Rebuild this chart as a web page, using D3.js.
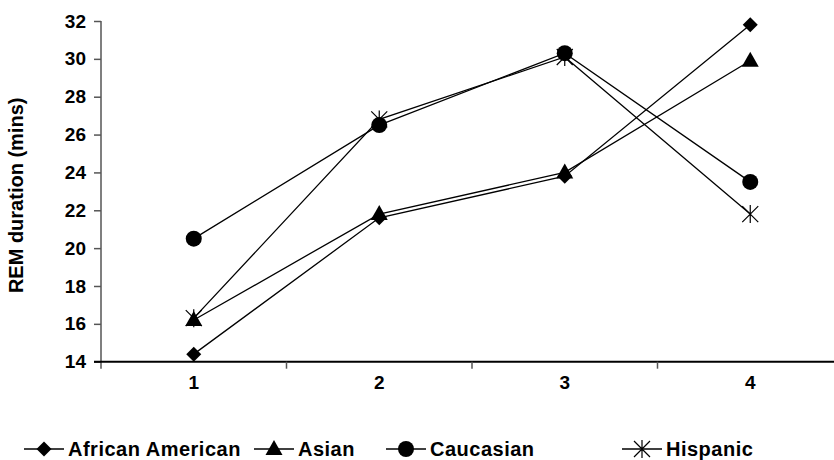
<!DOCTYPE html>
<html><head><meta charset="utf-8">
<script src="https://cdn.jsdelivr.net/npm/d3@7"></script>
<style>
html,body{margin:0;padding:0;background:#fff;}
svg{display:block;}
text{font-family:"Liberation Sans",Arial,sans-serif;font-weight:bold;fill:#000;}
</style></head>
<body>
<svg id="chart" width="834" height="460"></svg>
<script>
const categories = ["1", "2", "3", "4"];
const seriesNames = ["African American", "Asian", "Caucasian", "Hispanic"];
const africanAmerican = [14.4, 21.6, 23.8, 31.8];
const asian = [16.2, 21.8, 24.0, 29.9];
const caucasian = [20.5, 26.5, 30.3, 23.5];
const hispanic = [16.3, 26.8, 30.1, 21.8];
const yTicks = [14, 16, 18, 20, 22, 24, 26, 28, 30, 32];
const markerTypes = ["diamond", "triangle", "circle", "asterisk"];
const yTitle = "REM duration (mins)";

const seriesValues = [africanAmerican, asian, caucasian, hispanic];
const svg = d3.select("#chart");
const FONT = "Liberation Sans, Arial, sans-serif";

const x = d3.scaleBand().domain(categories).range([101, 843]).paddingInner(0).paddingOuter(0);
const y = d3.scaleLinear().domain([14, 32]).range([361.7, 21]);
const cx = c => x(c) + x.bandwidth() / 2;

// Y axis
const yAxis = svg.append("g").attr("transform", "translate(101,0)")
  .call(d3.axisLeft(y).tickValues(yTicks).tickSize(7).tickPadding(8).tickFormat(d3.format("d")));
yAxis.select(".domain").attr("stroke", "#555").attr("stroke-width", 1.5)
  .attr("d", `M0,${y(32)}V${y(14) + 7}`);
yAxis.selectAll(".tick line").attr("stroke", "#555").attr("stroke-width", 1.5);
yAxis.selectAll(".tick text").style("font-size", "19px").style("font-family", FONT).style("font-weight", "bold").attr("fill", "#000");

// X axis
const xAxis = svg.append("g").attr("transform", `translate(0,${y(14)})`)
  .call(d3.axisBottom(x).tickSize(0).tickPadding(14));
xAxis.select(".domain").attr("stroke", "#000").attr("stroke-width", 2)
  .attr("d", `M94,0H${x.range()[1]}`);
xAxis.selectAll(".tick text").style("font-size", "19px").style("font-family", FONT).style("font-weight", "bold").attr("fill", "#000");
const bounds = categories.map(c => x(c)).concat([x.range()[1]]).slice(1);
xAxis.selectAll("line.bound").data(bounds).enter().append("line")
  .attr("class", "bound").attr("x1", d => d).attr("x2", d => d)
  .attr("y1", 0).attr("y2", 7).attr("stroke", "#555").attr("stroke-width", 1.5);

// Y title
svg.append("text").attr("transform", `translate(23,${(y(14) + y(32)) / 2 + 4}) rotate(-90)`)
  .attr("text-anchor", "middle").style("font-size", "20px").text(yTitle);

// marker drawing
function drawMarker(g, type, px, py) {
  if (type === "diamond") {
    const s = 7.5;
    g.append("path").attr("d", `M${px},${py - s}L${px + s},${py}L${px},${py + s}L${px - s},${py}Z`).attr("fill", "#000");
  } else if (type === "triangle") {
    g.append("path").attr("d", `M${px},${py - 9}L${px + 8.5},${py + 6}L${px - 8.5},${py + 6}Z`).attr("fill", "#000");
  } else if (type === "circle") {
    g.append("circle").attr("cx", px).attr("cy", py).attr("r", 8).attr("fill", "#000");
  } else if (type === "asterisk") {
    const s = 8;
    g.append("path").attr("d",
      `M${px - s},${py - s}L${px + s},${py + s}M${px + s},${py - s}L${px - s},${py + s}M${px},${py - s - 1}L${px},${py + s + 1}`)
      .attr("stroke", "#000").attr("stroke-width", 1.2).attr("fill", "none");
  }
}

const line = d3.line().x((d, i) => cx(categories[i])).y(d => y(d));
seriesValues.forEach((vals, si) => {
  const g = svg.append("g");
  g.append("path").attr("d", line(vals)).attr("fill", "none").attr("stroke", "#000").attr("stroke-width", 1.3);
  vals.forEach((v, i) => drawMarker(g, markerTypes[si], cx(categories[i]), y(v)));
});

// Legend
const legendText = [68, 298, 430, 666];
const legY = 449;
seriesNames.forEach((name, si) => {
  const g = svg.append("g");
  const tx = legendText[si];
  const lx = tx - 44;
  g.append("line").attr("x1", lx).attr("x2", lx + 40).attr("y1", legY).attr("y2", legY).attr("stroke", "#000").attr("stroke-width", 1.5);
  drawMarker(g, markerTypes[si], lx + 20, legY);
  g.append("text").attr("x", tx).attr("y", legY).attr("dy", "0.35em")
    .style("font-size", "20px").style("letter-spacing", "0.5px").text(name);
});
</script>
</body></html>
